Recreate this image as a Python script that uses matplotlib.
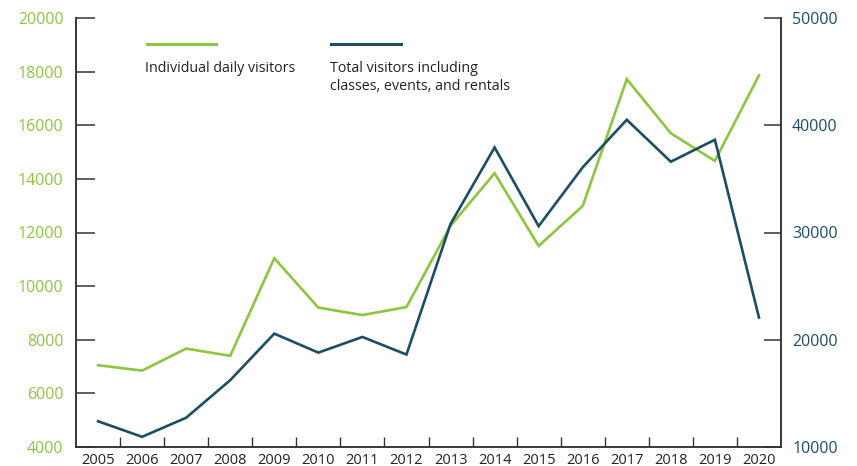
import numpy as np
import matplotlib.pyplot as plt
from matplotlib.ticker import MultipleLocator, FixedLocator

plt.rcParams['font.family'] = ['Open Sans', 'DejaVu Sans']

years = np.arange(2005, 2021)
daily_visitors = [7050, 6850, 7670, 7400, 11040, 9200, 8920, 9220,
                  12250, 14210, 11500, 12990, 17720, 15700, 14670, 17860]
total_visitors = [12400, 10950, 12730, 16230, 20570, 18800, 20260, 18620,
                  30800, 37930, 30590, 36080, 40510, 36600, 38650, 22070]

green = '#8cc63f'
blue = '#1b4e65'
axis_col = '#333333'

fig = plt.figure(figsize=(8.57, 4.66), dpi=100)
ax = fig.add_axes([76 / 857, 19 / 466, 705 / 857, 429 / 466])
ax2 = ax.twinx()

ax.plot(years, daily_visitors, color=green, lw=1.9, zorder=3, solid_joinstyle='miter')
ax2.plot(years, total_visitors, color=blue, lw=1.9, zorder=3, solid_joinstyle='miter')

ax.set_xlim(2004.5, 2020.5)
ax.set_ylim(4000, 20000)
ax2.set_ylim(10000, 50000)

ax.set_xticks(years)
ax.set_xticklabels([str(y) for y in years])
ax.xaxis.set_minor_locator(FixedLocator(np.arange(2005.5, 2020.5, 1)))
ax.tick_params(axis='x', which='major', length=0, pad=4, labelsize=10.5, labelcolor='#222222')
ax.tick_params(axis='x', which='minor', direction='in', length=7, width=1, color=axis_col)

ax.yaxis.set_major_locator(MultipleLocator(2000))
ax.tick_params(axis='y', direction='in', length=14, width=1.1, color=axis_col,
               labelsize=11.5, labelcolor=green, pad=9)
ax2.yaxis.set_major_locator(MultipleLocator(10000))
ax2.tick_params(axis='y', direction='in', length=12, width=1.1, color=axis_col,
                labelsize=11.5, labelcolor=blue, pad=8)

for a in (ax, ax2):
    a.spines['top'].set_visible(False)
    for s in ('left', 'right', 'bottom'):
        a.spines[s].set_color(axis_col)
        a.spines[s].set_linewidth(1.1)

# legend drawn by hand: line over text
ax.plot([0.1, 0.199], [0.94, 0.94], transform=ax.transAxes, color=green, lw=2.2, clip_on=False)
ax.text(0.098, 0.9, 'Individual daily visitors', transform=ax.transAxes,
        fontsize=10.3, color='#222222', va='top', ha='left')
ax.plot([0.362, 0.461], [0.94, 0.94], transform=ax.transAxes, color=blue, lw=2.2, clip_on=False)
ax.text(0.36, 0.9, 'Total visitors including\nclasses, events, and rentals', transform=ax.transAxes,
        fontsize=10.3, color='#222222', va='top', ha='left', linespacing=1.25)

plt.savefig('out.png', dpi=100)
plt.close()
